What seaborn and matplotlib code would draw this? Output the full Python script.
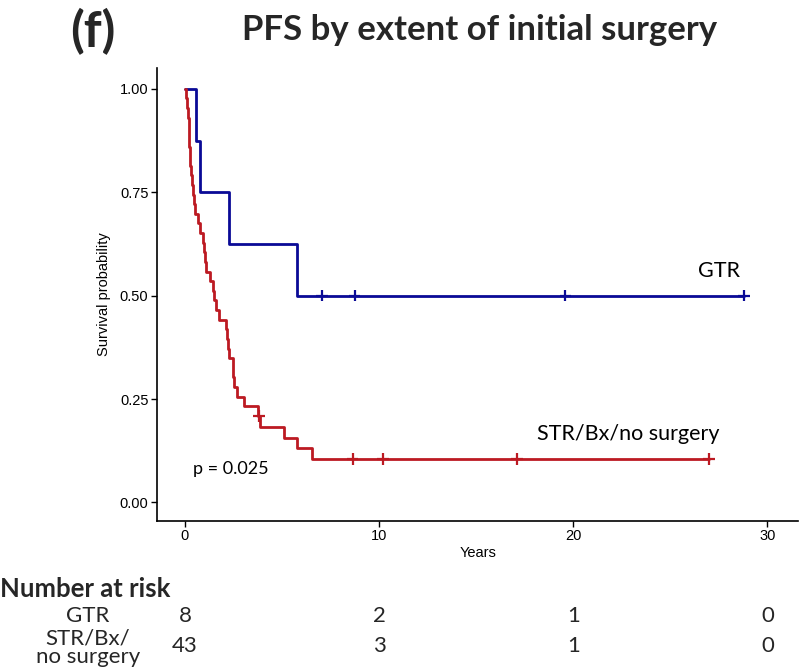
import numpy as np
import pandas as pd
import seaborn as sns
import matplotlib
matplotlib.use("Agg")
import matplotlib.pyplot as plt

# ---------------- data ----------------
gtr_time = [0.56, 0.79, 2.28, 5.78, 7.07, 8.74, 19.6, 28.8]
gtr_event = [1, 1, 1, 1, 0, 0, 0, 0]

str_time = [0.03, 0.10, 0.15, 0.19, 0.21, 0.23, 0.25, 0.27, 0.30, 0.34,
            0.43, 0.48, 0.53, 0.65, 0.77, 0.91, 0.98, 1.04, 1.10, 1.30,
            1.42, 1.50, 1.59, 1.76, 2.10, 2.15, 2.22, 2.28, 2.45, 2.50,
            2.53, 2.70, 3.05, 3.75, 3.82, 3.86, 5.10, 5.78, 6.55,
            8.64, 10.2, 17.1, 27.0]
str_event = [1] * 34 + [0, 1, 1, 1, 1, 0, 0, 0, 0]

groups = ["GTR", "STR/Bx/no surgery"]
colors = ["#0A0A96", "#BC1A22"]

risk_times = [0, 10, 20, 30]
risk_gtr = [8, 2, 1, 0]
risk_str = [43, 3, 1, 0]
risk_labels = ["GTR", "STR/Bx/\nno surgery"]

p_text = "p = 0.025"
title = "PFS by extent of initial surgery"
panel = "(f)"


def km(times, events):
    df = pd.DataFrame({"t": times, "e": events}).sort_values("t")
    s = 1.0
    xs, ys = [0.0], [1.0]
    cens_x, cens_y = [], []
    at_risk = len(df)
    for t, g in df.groupby("t", sort=True):
        d = int(g["e"].sum())
        c = int((g["e"] == 0).sum())
        if d > 0:
            s = s * (at_risk - d) / at_risk
        xs.append(t)
        ys.append(s)
        if c > 0:
            cens_x.append(t)
            cens_y.append(s)
        at_risk -= d + c
    return xs, ys, cens_x, cens_y


# ---------------- figure ----------------
sns.set_theme(style="ticks")
plt.rcParams["font.family"] = ["Liberation Sans", "DejaVu Sans"]

fig = plt.figure(figsize=(8.0, 6.68), dpi=100)
ax = fig.add_axes([0.196, 0.22, 0.802, 0.678])

steps, cens = [], []
for name, tt, ee in [(groups[0], gtr_time, gtr_event), (groups[1], str_time, str_event)]:
    xs, ys, cx, cy = km(tt, ee)
    steps.append(pd.DataFrame({"time": xs, "surv": ys, "group": name}))
    cens.append(pd.DataFrame({"time": cx, "surv": cy, "group": name}))

step_df = pd.concat(steps, ignore_index=True)
cens_df = pd.concat(cens, ignore_index=True)

sns.lineplot(data=step_df, x="time", y="surv", hue="group", hue_order=groups,
             palette=colors, drawstyle="steps-post", estimator=None,
             sort=False, units="group", linewidth=2.0, legend=False, ax=ax)
sns.scatterplot(data=cens_df, x="time", y="surv", hue="group", hue_order=groups,
                palette=colors, marker="+", s=70, linewidth=1.6, legend=False,
                ax=ax, zorder=5)

ax.set_xlim(-1.45, 31.6)
ax.set_ylim(-0.045, 1.05)
ax.set_xticks(risk_times)
ax.set_yticks([0, 0.25, 0.5, 0.75, 1.0])
ax.set_yticklabels(["0.00", "0.25", "0.50", "0.75", "1.00"])
ax.tick_params(axis="both", labelsize=10.5, length=4, width=1, color="black",
               labelcolor="black", pad=2)
ax.set_xlabel("Years", fontsize=10.5, color="black", labelpad=2)
ax.set_ylabel("Survival probability", fontsize=10.5, color="black", labelpad=6)
for side in ["top", "right"]:
    ax.spines[side].set_visible(False)
for side in ["left", "bottom"]:
    ax.spines[side].set_color("black")
    ax.spines[side].set_linewidth(1.2)

cal = ["Lato", "DejaVu Sans"]
ax.text(28.6, 0.56, groups[0], fontsize=15.5, family=cal, ha="right", va="center", color="black")
ax.text(27.55, 0.165, groups[1], fontsize=15.5, family=cal, ha="right", va="center", color="black")
ax.text(0.4, 0.08, p_text, fontsize=13, family=cal, ha="left", va="center", color="black")

fig.text(0.116, 0.953, panel, fontsize=36, family=cal, weight="bold", ha="center", va="center")
fig.text(0.599, 0.955, title, fontsize=25, family=cal, weight="bold", ha="center", va="center")

# number at risk table
fig.text(0.0, 1 - 589 / 668, "Number at risk", fontsize=18.5, family=cal, weight="bold",
         ha="left", va="center")
trans = matplotlib.transforms.blended_transform_factory(ax.transData, fig.transFigure)
row_y = [1 - 616 / 668, 1 - 646 / 668]
for t, a, b in zip(risk_times, risk_gtr, risk_str):
    fig.text(t, row_y[0], str(a), fontsize=16, family=cal, ha="center", va="center",
             transform=trans)
    fig.text(t, row_y[1], str(b), fontsize=16, family=cal, ha="center", va="center",
             transform=trans)
fig.text(88 / 800, row_y[0], risk_labels[0], fontsize=16, family=cal, ha="center", va="center")
fig.text(88 / 800, row_y[1] - 0.003, risk_labels[1], fontsize=16, family=cal, ha="center",
         va="center", linespacing=0.9)

fig.savefig("out.png", dpi=100)
